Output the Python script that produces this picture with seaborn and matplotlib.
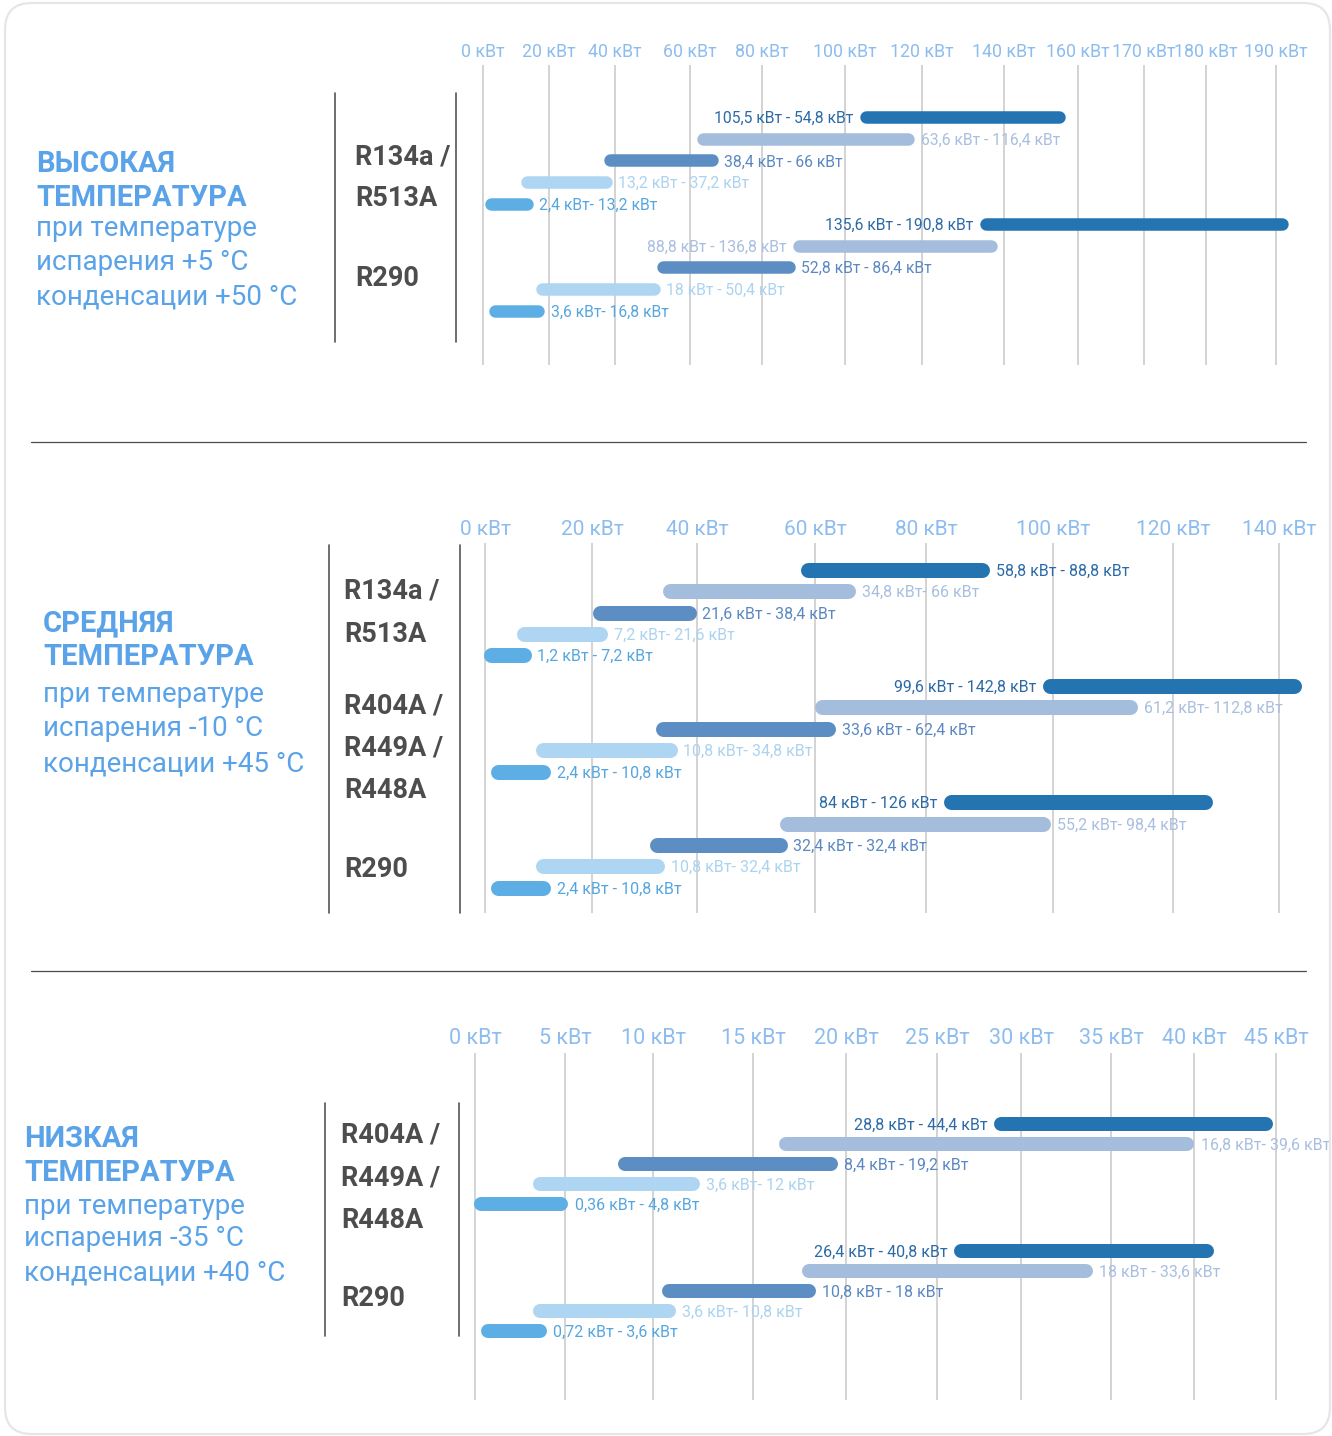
import numpy as np
import pandas as pd
import matplotlib
matplotlib.use("Agg")
import matplotlib.pyplot as plt
import seaborn as sns
from matplotlib.patches import FancyBboxPatch
from matplotlib.lines import Line2D

sns.set_theme(style="white")
plt.rcParams["font.family"] = ["Roboto", "DejaVu Sans"]

# --- DATA ---
# high temperature (evap +5, cond +50)
high_ticks = [0, 20, 40, 60, 80, 100, 120, 140, 160, 170, 180, 190]
high_start = [105.5, 63.6, 38.4, 13.2, 2.4, 135.6, 88.8, 52.8, 18, 3.6]
high_end = [154.8, 116.4, 66, 37.2, 13.2, 190.8, 136.8, 86.4, 50.4, 16.8]
high_labels = ["105,5 кВт - 54,8 кВт", "63,6 кВт - 116,4 кВт", "38,4 кВт - 66 кВт",
               "13,2 кВт - 37,2 кВт", "2,4 кВт- 13,2 кВт",
               "135,6 кВт - 190,8 кВт", "88,8 кВт - 136,8 кВт", "52,8 кВт - 86,4 кВт",
               "18 кВт - 50,4 кВт", "3,6 кВт- 16,8 кВт"]
high_side = ["left", "right", "right", "right", "right",
             "left", "left", "right", "right", "right"]
high_refrigerants = ["R134a /", "R513A", "R290"]
high_title = ["ВЫСОКАЯ", "ТЕМПЕРАТУРА"]
high_sub = ["при температуре", "испарения +5 °C", "конденсации +50 °C"]

# medium temperature (evap -10, cond +45)
mid_ticks = [0, 20, 40, 60, 80, 100, 120, 140]
mid_start = [58.8, 34.8, 21.6, 7.2, 1.2,
             99.6, 61.2, 33.6, 10.8, 2.4,
             84, 55.2, 32.4, 10.8, 2.4]
mid_end = [88.8, 66, 38.4, 21.6, 7.2,
           142.8, 112.8, 62.4, 34.8, 10.8,
           126, 98.4, 54, 32.4, 10.8]
mid_labels = ["58,8 кВт - 88,8 кВт", "34,8 кВт- 66 кВт", "21,6 кВт - 38,4 кВт",
              "7,2 кВт- 21,6 кВт", "1,2 кВт - 7,2 кВт",
              "99,6 кВт - 142,8 кВт", "61,2 кВт- 112,8 кВт", "33,6 кВт - 62,4 кВт",
              "10,8 кВт- 34,8 кВт", "2,4 кВт - 10,8 кВт",
              "84 кВт - 126 кВт", "55,2 кВт- 98,4 кВт", "32,4 кВт - 32,4 кВт",
              "10,8 кВт- 32,4 кВт", "2,4 кВт - 10,8 кВт"]
mid_side = ["right"] * 5 + ["left"] + ["right"] * 4 + ["left"] + ["right"] * 4
mid_refrigerants = ["R134a /", "R513A", "R404A /", "R449A /", "R448A", "R290"]
mid_title = ["СРЕДНЯЯ", "ТЕМПЕРАТУРА"]
mid_sub = ["при температуре", "испарения -10 °C", "конденсации +45 °C"]

# low temperature (evap -35, cond +40)
low_ticks = [0, 5, 10, 15, 20, 25, 30, 35, 40, 45]
low_start = [28.8, 16.8, 8.4, 3.6, 0.36, 26.4, 18, 10.8, 3.6, 0.72]
low_end = [44.4, 39.6, 19.2, 12, 4.8, 40.8, 33.6, 18, 10.8, 3.6]
low_labels = ["28,8 кВт - 44,4 кВт", "16,8 кВт- 39,6 кВт", "8,4 кВт - 19,2 кВт",
              "3,6 кВт- 12 кВт", "0,36 кВт - 4,8 кВт",
              "26,4 кВт - 40,8 кВт", "18 кВт - 33,6 кВт", "10,8 кВт - 18 кВт",
              "3,6 кВт- 10,8 кВт", "0,72 кВт - 3,6 кВт"]
low_side = ["left", "right", "right", "right", "right",
            "left", "right", "right", "right", "right"]
low_refrigerants = ["R404A /", "R449A /", "R448A", "R290"]
low_title = ["НИЗКАЯ", "ТЕМПЕРАТУРА"]
low_sub = ["при температуре", "испарения -35 °C", "конденсации +40 °C"]

# --- STYLE ---
roles = ["top", "upper", "middle", "lower", "base"]
bar_colors = {"top": "#2474b2", "upper": "#a5bddd", "middle": "#5c8ec3",
              "lower": "#aed5f1", "base": "#5daee4"}
text_colors = {"top": "#2b6aa6", "upper": "#a8bfdf", "middle": "#5a88c2",
               "lower": "#abd3f0", "base": "#55a6df"}
tick_color = "#8dbcee"
title_color = "#5ba3e8"
ref_color = "#4d4d4d"

W, H = 1332, 1436
fig = plt.figure(figsize=(W / 100, H / 100), dpi=100)


def fx(x):
    return x / W


def fy(y):
    return 1 - y / H


def piecewise(vals, px):
    vals = np.asarray(vals, float)
    px = np.asarray(px, float)

    def lin(v, a, b):
        v = np.asarray(v, float)
        out = np.interp(v, a, b)
        s0 = (b[1] - b[0]) / (a[1] - a[0])
        s1 = (b[-1] - b[-2]) / (a[-1] - a[-2])
        out = np.where(v < a[0], b[0] + (v - a[0]) * s0, out)
        out = np.where(v > a[-1], b[-1] + (v - a[-1]) * s1, out)
        return out

    return (lambda v: lin(v, vals, px)), (lambda p: lin(p, px, vals))


def draw_panel(box, ticks, tick_px, tick_size, starts, ends, labels, sides,
               step, group_gap, first_px, bar_px, label_size):
    left, top, right, bottom = box
    ax = fig.add_axes([fx(left), fy(bottom), fx(right) - fx(left), fy(top) - fy(bottom)])
    fwd, inv = piecewise(ticks, tick_px)
    ax.set_xscale("function", functions=(fwd, inv))

    n = len(starts)
    rows = [(k // 5) * (5 + group_gap) + k % 5 for k in range(n)]
    df = pd.DataFrame({
        "kw": list(starts) + list(ends),
        "y": rows + rows,
        "bar": list(range(n)) * 2,
        "role": [roles[k % 5] for k in range(n)] * 2,
    })
    lw = bar_px * 72 / 100
    sns.lineplot(data=df, x="kw", y="y", units="bar", estimator=None, hue="role",
                 hue_order=roles, palette=bar_colors, linewidth=lw,
                 solid_capstyle="round", legend=False, sort=False, ax=ax, zorder=3)

    off = lw / 2 + 4.5
    for k in range(n):
        role = roles[k % 5]
        if sides[k] == "right":
            ax.annotate(labels[k], (ends[k], rows[k]), xytext=(off, -1),
                        textcoords="offset points", ha="left", va="center",
                        fontsize=label_size, color=text_colors[role], zorder=4)
        else:
            ax.annotate(labels[k], (starts[k], rows[k]), xytext=(-off, -1),
                        textcoords="offset points", ha="right", va="center",
                        fontsize=label_size, color=text_colors[role], zorder=4)

    ax.set_xlim(float(inv(left)), float(inv(right)))
    ax.set_ylim((bottom - first_px) / step, -(first_px - top) / step)
    ax.set_xticks(ticks)
    ax.set_xticklabels([f"{t} кВт" for t in ticks])
    ax.xaxis.tick_top()
    ax.tick_params(axis="x", length=0, pad=3, labelsize=tick_size, labelcolor=tick_color)
    ax.set_yticks([])
    ax.set_xlabel("")
    ax.set_ylabel("")
    ax.grid(True, axis="x", color="#c8c8c8", linewidth=1.1)
    ax.set_axisbelow(True)
    ax.patch.set_alpha(0)
    sns.despine(ax=ax, left=True, bottom=True)
    for s in ax.spines.values():
        s.set_visible(False)
    return ax


def side_text(x, title, title_y, sub, sub_y, refs, ref_x, ref_y):
    for t, y in zip(title, title_y):
        fig.text(fx(x), fy(y), t, fontsize=21, fontweight="bold", color=title_color,
                 ha="left", va="center")
    for t, y in zip(sub, sub_y):
        fig.text(fx(x), fy(y), t, fontsize=20, color=title_color, ha="left", va="center")
    for t, y in zip(refs, ref_y):
        fig.text(fx(ref_x), fy(y), t, fontsize=19.5, fontweight="bold", color=ref_color,
                 ha="left", va="center")


def vline(x, y0, y1):
    fig.add_artist(Line2D([fx(x), fx(x)], [fy(y0), fy(y1)], color="#555555", lw=1.2))


# panel 1 - high
draw_panel((470, 65, 1325, 365), high_ticks,
           [483, 549, 615, 690, 762, 845, 922, 1004, 1078, 1144, 1206, 1276], 12.8,
           high_start, high_end, high_labels, high_side,
           step=21.6, group_gap=-0.05, first_px=117.3, bar_px=12.5, label_size=11.3)
side_text(36, high_title, [164, 198], high_sub, [229, 263, 297],
          high_refrigerants, 355, [157, 198, 279])
vline(335, 93, 342)
vline(456, 93, 342)

# panel 2 - medium
draw_panel((470, 543, 1325, 913), mid_ticks,
           [485, 592, 697, 815, 926, 1053, 1173, 1279], 15,
           mid_start, mid_end, mid_labels, mid_side,
           step=21.4, group_gap=0.43, first_px=569.7, bar_px=15, label_size=11.5)
side_text(43, mid_title, [623, 657], mid_sub, [694, 729, 764],
          mid_refrigerants, 344, [591, 634, 706, 748, 791, 870])
vline(329, 545, 913)
vline(460, 545, 913)

# panel 3 - low
draw_panel((465, 1053, 1325, 1400), low_ticks,
           [475, 565, 653, 753, 846, 937, 1021, 1111, 1194, 1276], 15.5,
           low_start, low_end, low_labels, low_side,
           step=20, group_gap=1.32, first_px=1124.3, bar_px=14, label_size=11.5)
side_text(24, low_title, [1139, 1173], low_sub, [1206, 1238, 1273],
          low_refrigerants, 341, [1135, 1178, 1221, 1299])
vline(325, 1103, 1336)
vline(459, 1103, 1336)

# separators and frame
for y in (442, 971):
    fig.add_artist(Line2D([fx(31), fx(1306)], [fy(y), fy(y)], color="#4a4a4a", lw=0.9))

frame = FancyBboxPatch((fx(5), fy(1434)), fx(1330) - fx(5), fy(3) - fy(1434),
                       boxstyle="round,pad=0,rounding_size=0.02",
                       mutation_aspect=W / H, transform=fig.transFigure,
                       facecolor="none", edgecolor="#e6e6e6", lw=1.6)
fig.add_artist(frame)

fig.savefig("out.png", dpi=100)
